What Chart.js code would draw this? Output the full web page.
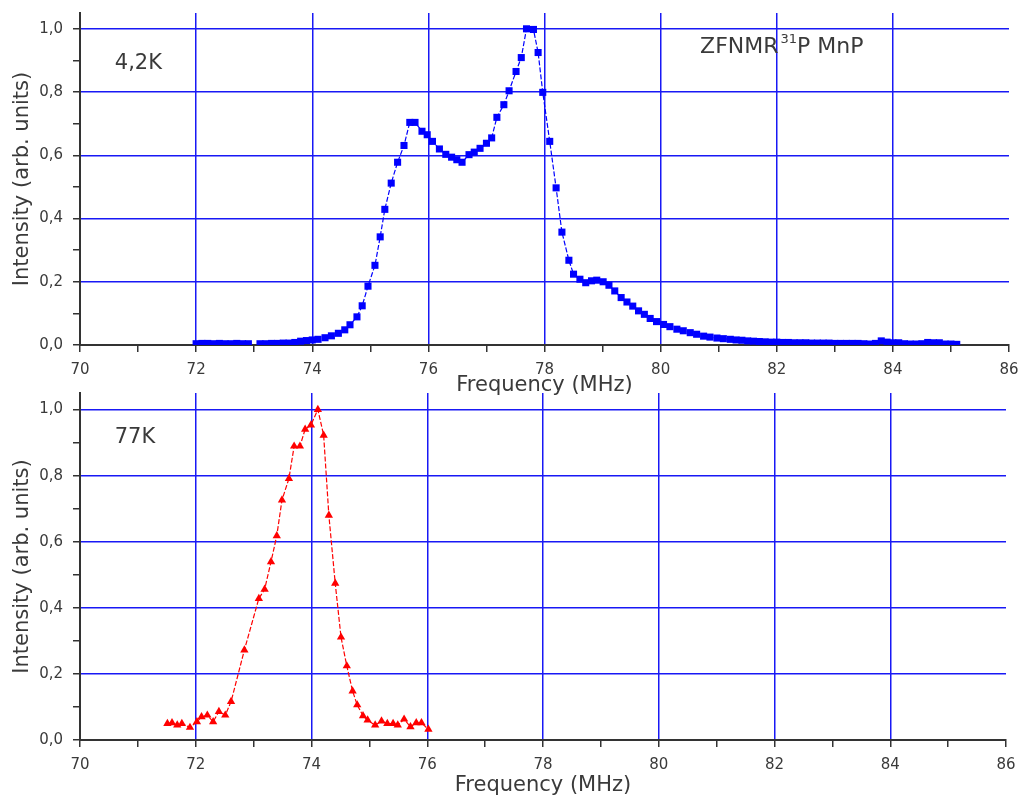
<!DOCTYPE html>
<html>
<head>
<meta charset="utf-8">
<script src="https://cdn.jsdelivr.net/npm/chart.js@4.4.1/dist/chart.umd.min.js"></script>
<style>
  body { margin: 0; background: #fff; }
  #wrap { position: relative; width: 1034px; height: 798px; }
  canvas { position: absolute; left: 0; }
  #top { top: 0; }
  #bottom { top: 380px; }
</style>
</head>
<body>
<div id="wrap">
  <canvas id="top" width="1034" height="398"></canvas>
  <canvas id="bottom" width="1034" height="418"></canvas>
</div>
<script>
// 4,2K spectrum (blue squares); null marks the gap in the sweep
const freqTop = [72.0, 72.1, 72.2, 72.3, 72.4, 72.5, 72.6, 72.7, 72.8, 72.9,
    73.0,
    73.1, 73.2, 73.3, 73.4, 73.5, 73.6, 73.7, 73.8,
    73.90, 74.00, 74.10, 74.22, 74.33, 74.45, 74.56, 74.65, 74.77, 74.86,
    74.96, 75.08, 75.17, 75.25, 75.36, 75.47, 75.58, 75.68, 75.77, 75.89,
    75.98, 76.07, 76.19, 76.30, 76.40, 76.49, 76.58, 76.70, 76.79, 76.89,
    77.00, 77.09, 77.18, 77.30, 77.39, 77.51, 77.60, 77.69, 77.81, 77.89,
    77.97, 78.09, 78.20, 78.30, 78.42, 78.50, 78.61, 78.71, 78.81, 78.90,
    79.01, 79.11, 79.21, 79.32, 79.42, 79.52, 79.62, 79.72, 79.82, 79.93,
    80.05, 80.16, 80.28, 80.39, 80.51, 80.62, 80.74, 80.85, 80.97, 81.08,
    81.2, 81.3, 81.4, 81.5, 81.6, 81.7, 81.8, 81.9, 82.0, 82.1,
    82.2, 82.3, 82.4, 82.5, 82.6, 82.7, 82.8, 82.9, 83.0, 83.1,
    83.2, 83.3, 83.4, 83.5, 83.6, 83.7, 83.8, 83.9, 84.0, 84.1,
    84.2, 84.3, 84.4, 84.5, 84.6, 84.7, 84.8, 84.9, 85.0, 85.1];
const intTop = [0.004, 0.005, 0.005, 0.004, 0.005, 0.004, 0.004, 0.005, 0.004, 0.004,
    null,
    0.004, 0.004, 0.005, 0.005, 0.006, 0.006, 0.008, 0.012,
    0.014, 0.016, 0.018, 0.023, 0.029, 0.037, 0.048, 0.064, 0.089, 0.124,
    0.186, 0.252, 0.342, 0.429, 0.512, 0.578, 0.631, 0.704, 0.704, 0.676,
    0.665, 0.644, 0.620, 0.603, 0.594, 0.586, 0.578, 0.602, 0.610, 0.622,
    0.638, 0.655, 0.720, 0.760, 0.804, 0.865, 0.909, 1.000, 0.998, 0.925,
    0.799, 0.644, 0.497, 0.357, 0.268, 0.224, 0.208, 0.197, 0.203, 0.205,
    0.200, 0.189, 0.171, 0.150, 0.136, 0.123, 0.108, 0.097, 0.084, 0.074,
    0.065, 0.058, 0.050, 0.045, 0.039, 0.034, 0.028, 0.025, 0.022, 0.020,
    0.018, 0.016, 0.015, 0.013, 0.012, 0.011, 0.010, 0.009, 0.009, 0.008,
    0.008, 0.007, 0.007, 0.007, 0.006, 0.006, 0.006, 0.006, 0.005, 0.005,
    0.005, 0.005, 0.005, 0.004, 0.003, 0.005, 0.013, 0.009, 0.007, 0.007,
    0.004, 0.003, 0.003, 0.004, 0.008, 0.007, 0.007, 0.003, 0.003, 0.002];

// 77K spectrum (red triangles)
const freqBot = [71.51, 71.59, 71.68, 71.76, 71.90, 72.02, 72.10, 72.20, 72.30, 72.40,
    72.51, 72.61, 72.84, 73.09, 73.19, 73.30, 73.40, 73.49, 73.61, 73.70,
    73.80, 73.89, 73.99, 74.11, 74.21, 74.30, 74.41, 74.51, 74.61, 74.71,
    74.79, 74.89, 74.97, 75.10, 75.21, 75.31, 75.41, 75.49, 75.60, 75.71,
    75.81, 75.90, 76.02];
const intBot = [0.050, 0.052, 0.045, 0.050, 0.038, 0.055, 0.070, 0.075, 0.055, 0.086,
    0.075, 0.116, 0.272, 0.428, 0.456, 0.539, 0.618, 0.726, 0.791, 0.889,
    0.889, 0.940, 0.953, 1.000, 0.922, 0.680, 0.474, 0.311, 0.224, 0.148,
    0.106, 0.073, 0.060, 0.045, 0.057, 0.050, 0.050, 0.045, 0.063, 0.040,
    0.052, 0.052, 0.032];

const xTicks = [70, 72, 74, 76, 78, 80, 82, 84, 86];
const yTicks = [0.0, 0.2, 0.4, 0.6, 0.8, 1.0];
const yMinorStep = 0.1;

const FONT = "'DejaVu Sans', sans-serif";
const GRID = "rgb(25,25,245)";
const AXIS = "#333";
const TEXT = "#3a3a3a";

function points(xs, ys) {
    return xs.map((x, i) => ({ x: x, y: ys[i] }));
}

function isMajorX(v) {
    return xTicks.indexOf(Math.round(v)) >= 0 && Math.abs(v - Math.round(v)) < 1e-6;
}

function isMajorY(v) {
    return yTicks.some(t => Math.abs(t - v) < 1e-6);
}

// major + minor y ticks up to the last labelled value
function buildYTicks(scale) {
    const top = yTicks[yTicks.length - 1];
    const list = [];
    for (let i = 0; i * yMinorStep <= top + 1e-6; i++) {
        list.push({ value: Math.round(i * yMinorStep * 10) / 10 });
    }
    scale.ticks = list;
}

// draws the text labels inside the plot, placed in data units
function labelPlugin(items) {
    return {
        id: "labels",
        afterDraw(chart) {
            const ctx = chart.ctx;
            const xs = chart.scales.x, ys = chart.scales.y;
            ctx.save();
            ctx.fillStyle = TEXT;
            ctx.textBaseline = "alphabetic";
            items.forEach(it => {
                let px = xs.getPixelForValue(it.x);
                const py = ys.getPixelForValue(it.y);
                it.parts.forEach(p => {
                    ctx.font = p.size + "px " + FONT;
                    ctx.fillText(p.text, px, py - (p.raise || 0));
                    px += ctx.measureText(p.text).width + (p.gap || 0);
                });
            });
            ctx.restore();
        }
    };
}

function makeChart(id, data, color, pointStyle, radius, opts) {
    new Chart(document.getElementById(id), {
        type: "line",
        data: {
            datasets: [{
                data: data,
                borderColor: color,
                backgroundColor: color,
                borderWidth: 1.2,
                borderDash: [5, 2],
                pointStyle: pointStyle,
                pointRadius: radius,
                pointBorderWidth: 0,
                spanGaps: false,
                tension: 0
            }]
        },
        options: {
            responsive: false,
            animation: false,
            layout: { padding: { top: 13, right: opts.right, left: 0, bottom: 0 } },
            plugins: { legend: { display: false }, tooltip: { enabled: false } },
            scales: {
                x: {
                    type: "linear",
                    min: 70,
                    max: 86,
                    afterFit: s => {
                        s.height = opts.xHeight;
                        s.paddingLeft = 0;
                        s.paddingRight = 0;
                    },
                    border: { display: true, color: AXIS, width: 2 },
                    grid: {
                        color: c => (c.tick && isMajorX(c.tick.value) && c.tick.value > 70 && c.tick.value < 86) ? GRID : "rgba(0,0,0,0)",
                        lineWidth: 1.5,
                        tickColor: AXIS,
                        tickWidth: 1.5,
                        tickLength: 7
                    },
                    ticks: {
                        stepSize: 1,
                        autoSkip: false,
                        maxRotation: 0,
                        padding: 9,
                        color: TEXT,
                        font: { family: FONT, size: 15 },
                        callback: v => isMajorX(v) ? String(Math.round(v)) : ""
                    },
                    title: {
                        display: true,
                        text: "Frequency (MHz)",
                        color: TEXT,
                        font: { family: FONT, size: 21 },
                        padding: { top: 0, bottom: 0 }
                    }
                },
                y: {
                    min: 0,
                    max: 1.05,
                    afterFit: s => {
                        s.width = 80;
                        s.paddingTop = 0;
                        s.paddingBottom = 0;
                    },
                    afterBuildTicks: buildYTicks,
                    border: { display: true, color: AXIS, width: 2 },
                    grid: {
                        color: c => (c.tick && isMajorY(c.tick.value) && c.tick.value > 0.01) ? GRID : "rgba(0,0,0,0)",
                        lineWidth: 1.5,
                        tickColor: AXIS,
                        tickWidth: 1.5,
                        tickLength: 7
                    },
                    ticks: {
                        autoSkip: false,
                        padding: 10,
                        color: TEXT,
                        font: { family: FONT, size: 15 },
                        callback: v => isMajorY(v) ? v.toFixed(1).replace(".", ",") : ""
                    },
                    title: {
                        display: true,
                        text: "Intensity (arb. units)",
                        color: TEXT,
                        font: { family: FONT, size: 21 },
                        padding: { top: 10, bottom: 0 }
                    }
                }
            }
        },
        plugins: [labelPlugin(opts.labels)]
    });
}

makeChart("top", points(freqTop, intTop), "#0000ff", "rect", 5, {
    right: 25,
    xHeight: 53,
    labels: [
        { x: 70.6, y: 0.874, parts: [{ text: "4,2K", size: 21 }] },
        { x: 80.68, y: 0.924, parts: [
            { text: "ZFNMR", size: 22, gap: 2 },
            { text: "31", size: 13, raise: 10, gap: 0 },
            { text: "P MnP", size: 22 }
        ] }
    ]
});

makeChart("bottom", points(freqBot, intBot), "#ff0000", "triangle", 4.8, {
    right: 28,
    xHeight: 58,
    labels: [
        { x: 70.6, y: 0.898, parts: [{ text: "77K", size: 21 }] }
    ]
});
</script>
</body>
</html>
